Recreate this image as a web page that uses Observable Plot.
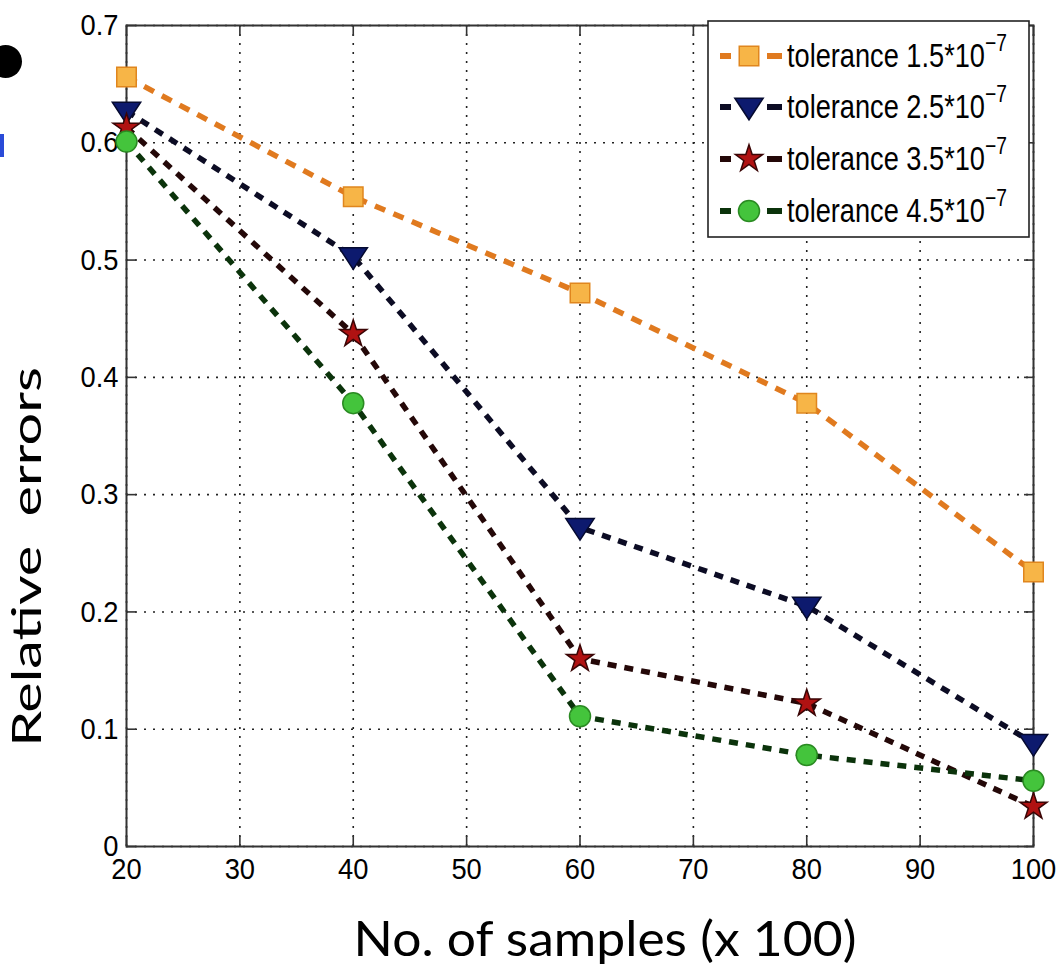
<!DOCTYPE html>
<html><head><meta charset="utf-8">
<script src="https://cdn.jsdelivr.net/npm/d3@7"></script>
<script src="https://cdn.jsdelivr.net/npm/@observablehq/plot@0.6"></script>
<style>
body{margin:0;background:#fff;}
#wrap{position:relative;width:1059px;height:973px;overflow:hidden;background:#fff;}
.bullet{position:absolute;left:-11px;top:45px;width:33px;height:33px;border-radius:50%;background:#000;}
.bar{position:absolute;left:0;top:134px;width:4px;height:23px;background:#2a4bd8;}
</style></head><body><div id="wrap"><div class="bullet"></div><div class="bar"></div></div>
<script>
// ---- data ----
const samples = [20, 40, 60, 80, 100];
const tol15 = [0.656, 0.554, 0.472, 0.378, 0.234];
const tol25 = [0.627, 0.503, 0.272, 0.205, 0.088];
const tol35 = [0.613, 0.437, 0.160, 0.122, 0.034];
const tol45 = [0.601, 0.378, 0.111, 0.078, 0.056];
const seriesLabels = ["tolerance 1.5*10", "tolerance 2.5*10", "tolerance 3.5*10", "tolerance 4.5*10"];
const exponentLabel = "\u22127";
const xTicks = [20, 30, 40, 50, 60, 70, 80, 90, 100];
const yTicks = [0, 0.1, 0.2, 0.3, 0.4, 0.5, 0.6, 0.7];
const yTickLabels = ["0", "0.1", "0.2", "0.3", "0.4", "0.5", "0.6", "0.7"];
const xTitle = "No. of samples (x 100)";
const yTitle = "Relative\u00a0\u00a0errors";

// down-pointing triangle symbol
const triangleDown = {
  draw(context, size) {
    const s = Math.sqrt(size);
    context.moveTo(-s * 0.8, -s * 0.5);
    context.lineTo(s * 0.8, -s * 0.5);
    context.lineTo(0, s * 0.72);
    context.closePath();
  }
};

const seriesValues = [tol15, tol25, tol35, tol45];
const styles = [
  {line: "#e07a1f", dash: "11,9", fill: "#f7b547", stroke: "#e0861e", symbol: "square", r: 11},
  {line: "#0c0c24", dash: "9,8", fill: "#0d1a6e", stroke: "#050a30", symbol: triangleDown, r: 10},
  {line: "#240808", dash: "9,8", fill: "#b01212", stroke: "#3a0505", symbol: "star", r: 8.5},
  {line: "#0b330b", dash: "9,8", fill: "#44c43c", stroke: "#2a8a22", symbol: "circle", r: 10.5}
];
const tables = seriesValues.map((vals, i) => samples.map((x, j) => ({x, y: vals[j], s: seriesLabels[i]})));

const axisCommon = {tickSize: -10, fontSize: 30, stroke: "#333", strokeWidth: 1.6, label: null};
const marks = [
  Plot.gridX(xTicks, {stroke: "#222", strokeOpacity: 1, strokeWidth: 1.6, strokeDasharray: "2,7"}),
  Plot.gridY(yTicks, {stroke: "#222", strokeOpacity: 1, strokeWidth: 1.6, strokeDasharray: "2,7"}),
  Plot.frame({stroke: "#333", strokeWidth: 2}),
  Plot.axisX(xTicks, {...axisCommon, anchor: "bottom", tickPadding: 21, tickFormat: d => String(d)}),
  Plot.axisX(xTicks, {...axisCommon, anchor: "top", tickFormat: () => ""}),
  Plot.axisY(yTicks, {...axisCommon, anchor: "left", tickPadding: 18, tickFormat: (d, i) => yTickLabels[i]}),
  Plot.axisY(yTicks, {...axisCommon, anchor: "right", tickFormat: () => ""})
];
tables.forEach((t, i) => {
  const st = styles[i];
  marks.push(Plot.line(t, {x: "x", y: "y", stroke: st.line, strokeWidth: 5.5, strokeDasharray: st.dash, strokeLinecap: "butt"}));
  marks.push(Plot.dot(t, {x: "x", y: "y", symbol: () => st.symbol, r: st.r, fill: st.fill, stroke: st.stroke, strokeWidth: 1.5}));
});
marks.push(Plot.text([xTitle], {frameAnchor: "bottom", dx: 25, dy: 94, lineAnchor: "middle", textAnchor: "middle", fontSize: 48, fontFamily: "Lato", fill: "#000"}));
marks.push(Plot.text([yTitle], {frameAnchor: "left", dx: -98, dy: 121, rotate: -90, lineAnchor: "middle", textAnchor: "middle", fontSize: 46, fontFamily: "Lato", fill: "#000"}));

const chart = Plot.plot({
  width: 1059,
  height: 973,
  marginLeft: 126,
  marginRight: 26,
  marginTop: 25,
  marginBottom: 127,
  style: {fontFamily: "'Liberation Sans', Arial, sans-serif", background: "#fff", color: "#000", overflow: "visible"},
  x: {domain: [20, 100], axis: null},
  y: {domain: [0, 0.7], axis: null},
  symbol: {type: "identity"},
  marks
});

// stretch/condense text glyphs to match the reference's proportions
function rescale(sel, sx, sy) {
  sel.each(function () {
    const tr = this.getAttribute("transform") || "";
    this.setAttribute("transform", `${tr} scale(${sx},${sy})`);
  });
}
const svg = d3.select(chart);
rescale(svg.selectAll("[aria-label='x-axis tick label'] text, [aria-label='y-axis tick label'] text"), 0.91, 1);
rescale(svg.selectAll("text").filter(function () { return this.textContent === yTitle; }), 1.25, 0.88);
rescale(svg.selectAll("text").filter(function () { return this.textContent === xTitle; }), 1.075, 1);
document.getElementById("wrap").appendChild(chart);

// ---- legend ----
const legW = 321, legH = 216, rowY = [36, 87, 139, 191];
const leg = d3.create("svg").attr("width", legW + 2).attr("height", legH + 2)
  .style("position", "absolute").style("left", "707px").style("top", "20px").style("overflow", "visible");
leg.append("rect").attr("x", 1).attr("y", 1).attr("width", legW).attr("height", legH)
  .attr("fill", "#fff").attr("stroke", "#222").attr("stroke-width", 1.6);
seriesLabels.forEach((lab, i) => {
  const st = styles[i], cy = rowY[i];
  const g = leg.append("g");
  g.append("line").attr("x1", 13).attr("x2", 24).attr("y1", cy).attr("y2", cy).attr("stroke", st.line).attr("stroke-width", 6);
  g.append("line").attr("x1", 60).attr("x2", 75).attr("y1", cy).attr("y2", cy).attr("stroke", st.line).attr("stroke-width", 6);
  const symType = typeof st.symbol === "string" ? {square: d3.symbolSquare, star: d3.symbolStar, circle: d3.symbolCircle}[st.symbol] : st.symbol;
  g.append("path").attr("transform", `translate(42,${cy})`)
    .attr("d", d3.symbol(symType, Math.PI * st.r * st.r)())
    .attr("fill", st.fill).attr("stroke", st.stroke).attr("stroke-width", 1.5);
  const t = g.append("text").attr("transform", `translate(80,${cy + 11}) scale(0.8,1)`)
    .attr("font-family", "'Liberation Sans', Arial, sans-serif").attr("font-size", 34).attr("fill", "#000");
  t.append("tspan").text(lab);
  t.append("tspan").attr("font-size", 24).attr("dy", -16).text(exponentLabel);
});
document.getElementById("wrap").appendChild(leg.node());
</script></body></html>
